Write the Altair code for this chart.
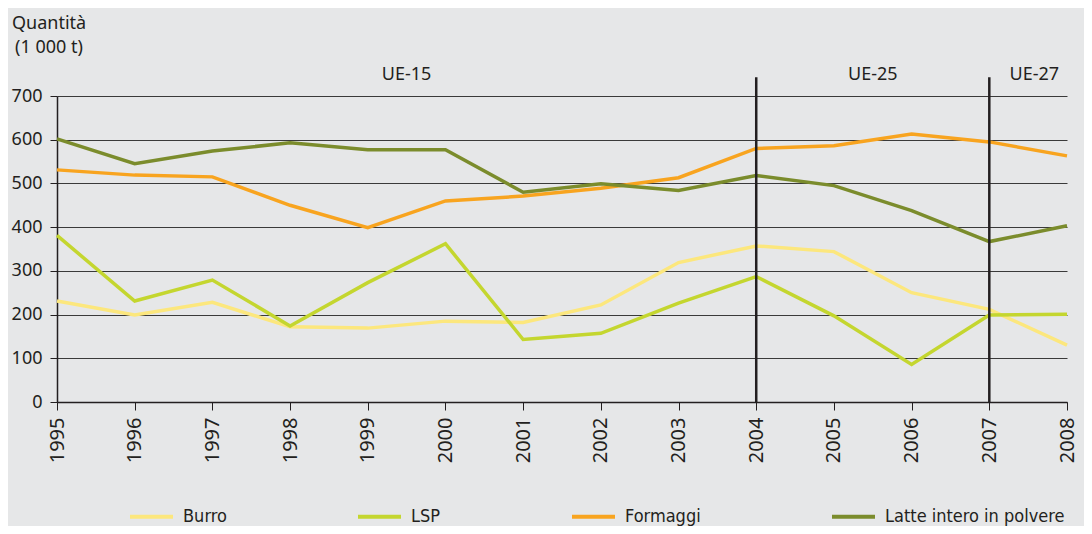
import altair as alt
import pandas as pd

years = list(range(1995, 2009))
burro = [231, 199, 228, 172, 169, 185, 182, 222, 319, 357, 344, 250, 212, 130]
lsp = [381, 231, 279, 174, 273, 362, 143, 157, 226, 287, 197, 86, 199, 201]
formaggi = [531, 519, 515, 450, 399, 460, 471, 489, 513, 580, 586, 613, 595, 563]
latte = [602, 545, 574, 593, 577, 577, 480, 499, 484, 518, 495, 438, 367, 403]

series_names = ["Burro", "LSP", "Formaggi", "Latte intero in polvere"]
series_colors = ["#fce77d", "#c4d62f", "#f8a41f", "#7b8c2c"]

y_ticks = [0, 100, 200, 300, 400, 500, 600, 700]

era_labels = ["UE-15", "UE-25", "UE-27"]
era_x = [1999.5, 2005.5, 2007.58]
era_y = [736, 736, 736]

divider_years = [2004, 2007]
divider_top = [743, 743]

title_lines = ["Quantità", "(1 000 t)"]

FONT = "Noto Sans"
NARROW = "Liberation Sans Narrow, DejaVu Sans Condensed, sans-serif"
INK = "#231f20"

rows = []
for name, vals in zip(series_names, [burro, lsp, formaggi, latte]):
    for yr, v in zip(years, vals):
        rows.append({"anno": yr, "valore": v, "serie": name})
df = pd.DataFrame(rows)

df_div = pd.DataFrame({"anno": divider_years, "base": [0, 0], "top": divider_top})
df_era = pd.DataFrame({"label": era_labels, "x": era_x, "y": era_y})
df_title = pd.DataFrame({"t": title_lines, "px": [-45, -42], "py": [-67, -43]})

x_scale = alt.Scale(domain=[1995, 2008], nice=False, zero=False)
y_scale = alt.Scale(domain=[0, 700], nice=False)

lines = alt.Chart(df).mark_line(strokeWidth=3.5).encode(
    x=alt.X("anno:Q", scale=x_scale,
            axis=alt.Axis(values=years, format="d", labelAngle=-90, title=None,
                          grid=False, tickSize=8, labelPadding=7, domainWidth=1.5,
                          labelFontSize=20)),
    y=alt.Y("valore:Q", scale=y_scale,
            axis=alt.Axis(values=y_ticks, title=None, grid=True, gridColor="#3a3a3a",
                          gridWidth=1.2, tickSize=7, labelPadding=8, domainWidth=1.5,
                          labelFontSize=18)),
    color=alt.Color("serie:N",
                    scale=alt.Scale(domain=series_names, range=series_colors),
                    legend=alt.Legend(title=None, orient="none", legendX=71, legendY=397,
                                      direction="horizontal", columns=4, columnPadding=123,
                                      symbolType="stroke", symbolSize=1849,
                                      symbolStrokeWidth=4, labelOffset=8,
                                      labelFont=NARROW, labelFontSize=18,
                                      labelLimit=400, labelColor=INK)),
)

dividers = alt.Chart(df_div).mark_rule(strokeWidth=2.5, color=INK).encode(
    x=alt.X("anno:Q", scale=x_scale),
    y=alt.Y("base:Q", scale=y_scale),
    y2="top:Q",
)

eras = alt.Chart(df_era).mark_text(fontSize=18, font=FONT, color=INK,
                                   baseline="alphabetic", align="center").encode(
    x=alt.X("x:Q", scale=x_scale),
    y=alt.Y("y:Q", scale=y_scale),
    text="label:N",
)

titles = alt.Chart(df_title).mark_text(fontSize=18, font=FONT, color=INK,
                                       baseline="alphabetic", align="left").encode(
    x=alt.X("px:Q", scale=None),
    y=alt.Y("py:Q", scale=None),
    text="t:N",
)

chart = alt.layer(lines, dividers, eras, titles).properties(
    width=1010,
    height=306,
    padding={"left": 49, "top": 88, "right": 17, "bottom": 124},
    autosize=alt.AutoSizeParams(type="none"),
    background="#e6e7e8",
).configure_axis(
    labelFont=FONT, labelColor=INK, domainColor=INK, tickColor=INK,
).configure_view(
    strokeWidth=0,
)

chart.save("out.html", embed_options={"renderer": "svg", "actions": False})
